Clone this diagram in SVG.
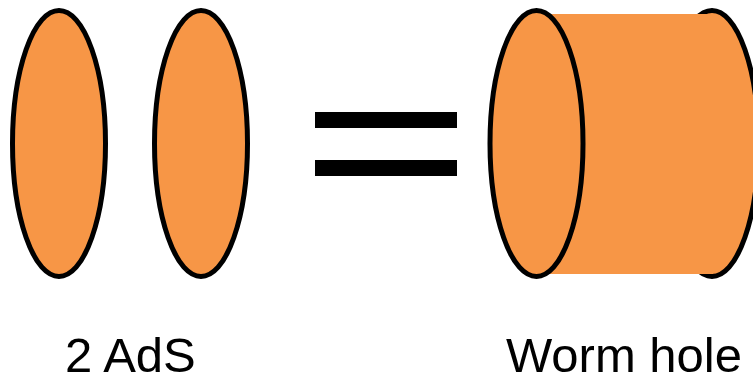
<svg xmlns="http://www.w3.org/2000/svg" width="753" height="379" viewBox="0 0 753 379">
<style>
.disk{fill:#F79646;stroke:#000;stroke-width:5}
.body{fill:#F79646;stroke:none}
.bar{fill:#000}
.lbl{font-family:"Liberation Sans",Arial,sans-serif;font-size:49px;fill:#000}
</style>
<rect width="753" height="379" fill="#fff"/>
<g id="ads1"><ellipse class="disk" cx="59" cy="143.5" rx="46.5" ry="133"/></g>
<g id="ads2"><ellipse class="disk" cx="201" cy="143.5" rx="46.5" ry="133"/></g>
<g id="equals">
<rect class="bar" x="315" y="112" width="142" height="16"/>
<rect class="bar" x="315" y="160" width="142" height="16"/>
</g>
<g id="wormhole">
<ellipse class="disk" cx="712" cy="143.5" rx="46.5" ry="133"/>
<rect class="body" x="545" y="14" width="168" height="260"/>
<ellipse class="disk" cx="536.5" cy="143.5" rx="46.5" ry="133"/>
</g>
<g id="labels">
<text class="lbl" x="65" y="372">2 AdS</text>
<text class="lbl" x="506" y="372">Worm hole</text>
</g>
</svg>
